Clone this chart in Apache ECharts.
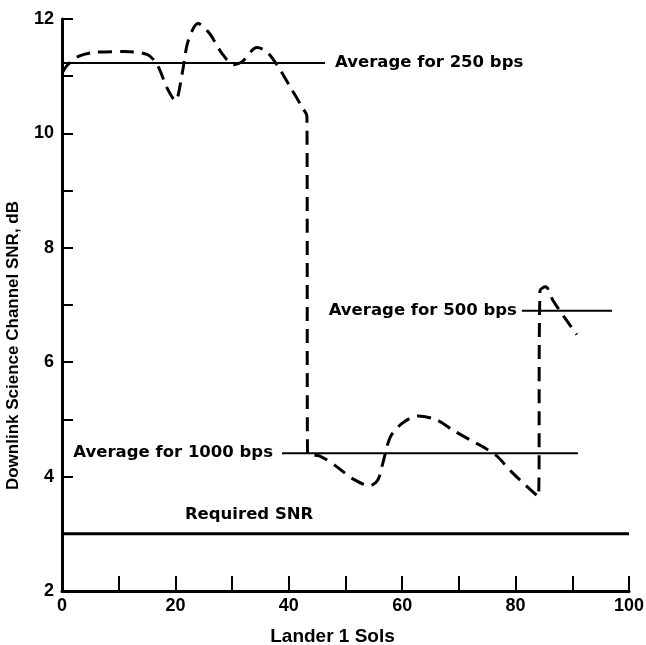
<!DOCTYPE html>
<html>
<head>
<meta charset="utf-8">
<script src="https://cdn.jsdelivr.net/npm/echarts@6/dist/echarts.min.js"></script>
<style>
  html, body { margin: 0; padding: 0; background: #fff; }
  #main { width: 646px; height: 645px; }
</style>
</head>
<body>
<div id="main"></div>
<script>
// measured SNR (sol, dB)
var snrCurve = [
  [0, 11.05], [1, 11.2], [3, 11.35], [6, 11.42], [11, 11.43], [15, 11.38], [16.8, 11.2],
  [18.5, 10.8], [20, 10.57], [21.2, 11.05], [22.2, 11.6], [24, 11.92], [26, 11.75],
  [28.2, 11.4], [30.3, 11.2], [31.7, 11.25], [34.4, 11.5], [36.1, 11.43], [37.9, 11.2],
  [40.2, 10.82], [42.4, 10.45], [43.2, 10.3], [43.3, 4.4], [45.5, 4.36], [48.5, 4.17],
  [51.3, 3.96], [54.3, 3.84], [55.7, 3.94], [56.6, 4.24], [57.9, 4.69], [60.1, 4.94],
  [62.8, 5.06], [66.1, 4.99], [69, 4.81], [72, 4.64], [74.6, 4.5], [76.7, 4.36],
  [79.5, 4.06], [84, 3.65], [84.3, 7.25], [85.3, 7.32], [86.6, 7.08], [88.5, 6.8], [90.8, 6.48]
];
// average lines: [xStart, xEnd, level]
var avg250 = [0, 46.4, 11.23];
var avg1000 = [38.8, 91, 4.41];
var avg500 = [81.1, 97, 6.9];
var requiredSnr = [0, 100, 3];
var requiredLabelX = 33;

var xTicks = [0, 20, 40, 60, 80, 100];
var yTicks = [2, 4, 6, 8, 10, 12];

var FONT = 'Liberation Sans';
var chart = echarts.init(document.getElementById('main'));

function textLabel(text, pos, dist) {
  return { show: true, position: pos, formatter: text, color: '#000', opacity: 1,
    fontFamily: 'DejaVu Sans', fontWeight: 'bold', fontSize: 16.5, distance: dist };
}

function avgSeries(a) {
  return {
    type: 'line', data: [[a[0], a[2]], [a[1], a[2]]], symbol: 'none', silent: true,
    lineStyle: { color: '#000', width: 2 }
  };
}

// label anchors (zero-size points)
var labelPoints = [
  { value: [avg250[1], avg250[2]], label: textLabel('Average for 250 bps', 'right', 10) },
  { value: [avg1000[0], avg1000[2]], label: textLabel('Average for 1000 bps', 'left', 9) },
  { value: [avg500[0], avg500[2]], label: textLabel('Average for 500 bps', 'left', 5) },
  { value: [requiredLabelX, requiredSnr[2]], label: textLabel('Required SNR', 'top', 11) }
];

var option = {
  animation: false,
  backgroundColor: '#fff',
  grid: { left: 62, right: 17, top: 19, bottom: 54, outerBoundsMode: 'none' },
  xAxis: {
    type: 'value', min: 0, max: 100, interval: 10,
    name: 'Lander 1 Sols', nameLocation: 'middle', nameGap: 36,
    nameTextStyle: { color: '#000', fontFamily: FONT, fontWeight: 'bold', fontSize: 19, padding: [0, 26, 0, 0] },
    axisLine: { show: true, lineStyle: { color: '#000', width: 3 } },
    axisTick: { show: true, inside: true, length: 15, lineStyle: { color: '#000', width: 2 } },
    axisLabel: {
      color: '#000', fontFamily: FONT, fontWeight: 'bold', fontSize: 18, margin: 6,
      formatter: function (v) { return xTicks.indexOf(v) >= 0 ? String(v) : ''; }
    },
    splitLine: { show: false }
  },
  yAxis: {
    type: 'value', min: 2, max: 12, interval: 1,
    axisLine: { show: true, lineStyle: { color: '#000', width: 3 } },
    axisTick: { show: true, inside: true, length: 11, lineStyle: { color: '#000', width: 2 } },
    axisLabel: {
      color: '#000', fontFamily: FONT, fontWeight: 'bold', fontSize: 18, margin: 8,
      formatter: function (v) { return yTicks.indexOf(v) >= 0 ? String(v) : ''; }
    },
    splitLine: { show: false }
  },
  graphic: [{
    type: 'text', left: 5, top: 201, rotation: Math.PI / 2,
    style: { text: 'Downlink Science Channel SNR, dB', fill: '#000',
      font: 'bold 17px "Liberation Sans"' }
  }],
  series: [
    {
      type: 'line', data: snrCurve, symbol: 'none', smooth: 0.3, silent: true,
      lineStyle: { color: '#000', width: 3, type: [14, 8] }
    },
    avgSeries(avg250),
    avgSeries(avg1000),
    avgSeries(avg500),
    {
      type: 'line', symbol: 'none', silent: true,
      lineStyle: { color: '#000', width: 3 },
      data: [[requiredSnr[0], requiredSnr[2]], [requiredSnr[1], requiredSnr[2]]]
    },
    {
      type: 'scatter', data: labelPoints, symbol: 'circle', symbolSize: 0, silent: true,
      itemStyle: { color: '#000', opacity: 1 }
    }
  ]
};
chart.setOption(option);
</script>
</body>
</html>
